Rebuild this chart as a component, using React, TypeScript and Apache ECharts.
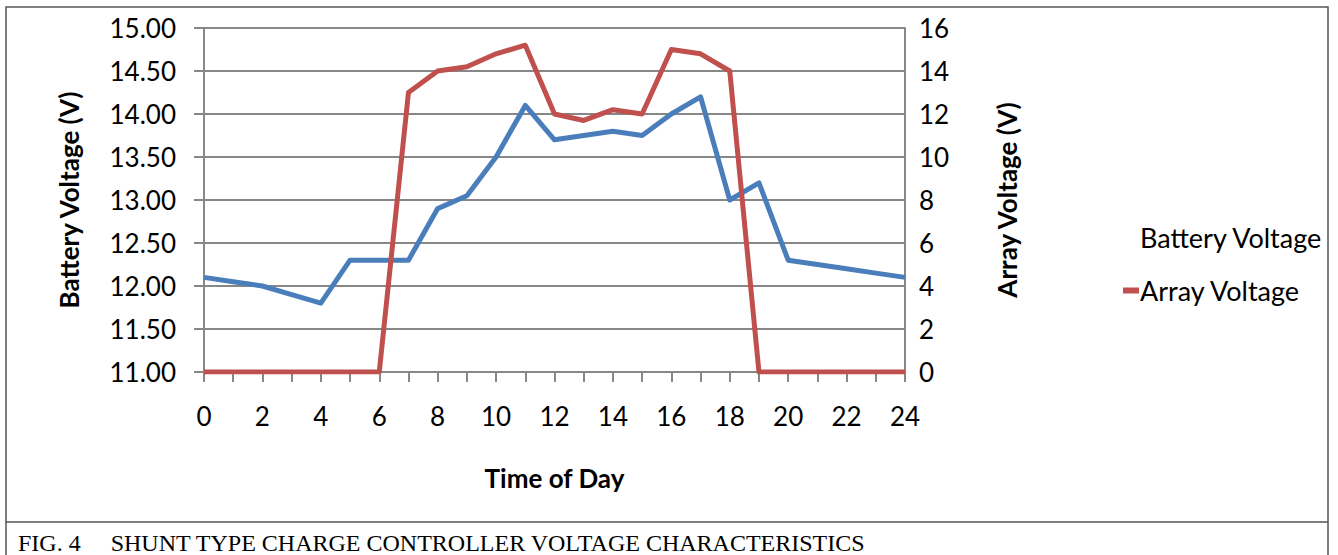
import React, { useEffect, useRef } from "react";
import * as echarts from "echarts";

const hours = [0, 1, 2, 3, 4, 5, 6, 7, 8, 9, 10, 11, 12, 13, 14, 15, 16, 17, 18, 19, 20, 21, 22, 23, 24];
const batteryVoltage = [12.1, 12.05, 12.0, 11.9, 11.8, 12.3, 12.3, 12.3, 12.9, 13.05, 13.5, 14.1, 13.7, 13.75, 13.8, 13.75, 14.0, 14.2, 13.0, 13.2, 12.3, 12.25, 12.2, 12.15, 12.1];
const arrayVoltage = [0, 0, 0, 0, 0, 0, 0, 13.0, 14.0, 14.2, 14.8, 15.2, 12.0, 11.7, 12.2, 12.0, 15.0, 14.8, 14.0, 0, 0, 0, 0, 0, 0];
const seriesNames = ["Battery Voltage", "Array Voltage"];
const caption = "FIG. 4     SHUNT TYPE CHARGE CONTROLLER VOLTAGE CHARACTERISTICS";

const FONT = "Lato, 'Open Sans', sans-serif";
const GRAY = "#878787";
const FS = 26;

export default function App() {
  const ref = useRef<HTMLDivElement>(null);
  useEffect(() => {
    document.body.style.margin = "0";
    const chart = echarts.init(ref.current!, null, { renderer: "svg" });
    chart.setOption({
      animation: false,
      backgroundColor: "#fff",
      textStyle: { fontFamily: FONT },
      grid: { left: 204, right: 433, top: 28, bottom: 183, containLabel: false },
      legend: {
        orient: "vertical",
        left: 1118,
        top: 219,
        itemGap: 26,
        itemWidth: 16,
        itemHeight: 6,
        textStyle: { fontSize: 27, color: "#000", fontFamily: FONT, padding: [0, 0, 0, -4] },
        data: [
          { name: seriesNames[0], icon: "rect", itemStyle: { color: "rgba(0,0,0,0)", opacity: 0 } },
          { name: seriesNames[1], icon: "rect", itemStyle: { color: "#c0504d" } },
        ],
      },
      xAxis: {
        type: "value",
        min: 0,
        max: 24,
        interval: 1,
        name: "Time of Day",
        nameLocation: "middle",
        nameGap: 93,
        nameTextStyle: { fontSize: FS, fontWeight: "bold", color: "#000", fontFamily: FONT },
        axisLine: { lineStyle: { color: GRAY, width: 2 } },
        axisTick: { show: true, length: 10, lineStyle: { color: GRAY, width: 2 } },
        axisLabel: {
          fontSize: FS,
          color: "#000",
          margin: 31,
          formatter: (v: number) => (v % 2 === 0 ? String(v) : ""),
        },
        splitLine: { show: false },
      },
      yAxis: [
        {
          type: "value",
          min: 11,
          max: 15,
          interval: 0.5,
          position: "left",
          name: "Battery Voltage (V)",
          nameLocation: "middle",
          nameGap: 122,
          nameTextStyle: { fontSize: FS, fontWeight: "bold", color: "#000", fontFamily: FONT },
          axisLine: { show: true, lineStyle: { color: GRAY, width: 2 } },
          axisTick: { show: true, length: 10, lineStyle: { color: GRAY, width: 2 } },
          axisLabel: { fontSize: FS, color: "#000", margin: 28, formatter: (v: number) => v.toFixed(2) },
          splitLine: { show: true, lineStyle: { color: GRAY, width: 2 } },
        },
        {
          type: "value",
          min: 0,
          max: 16,
          interval: 2,
          position: "right",
          name: "Array Voltage (V)",
          nameLocation: "middle",
          nameGap: 89,
          nameTextStyle: { fontSize: FS, fontWeight: "bold", color: "#000", fontFamily: FONT },
          axisLine: { show: true, lineStyle: { color: GRAY, width: 2 } },
          axisTick: { show: false },
          axisLabel: { fontSize: FS, color: "#000", margin: 14 },
          splitLine: { show: false },
        },
      ],
      series: [
        {
          name: seriesNames[0],
          type: "line",
          yAxisIndex: 0,
          data: hours.map((h, i) => [h, batteryVoltage[i]]),
          showSymbol: false,
          symbol: "none",
          lineStyle: { color: "#4a7ebb", width: 5, join: "round" },
          itemStyle: { color: "#4a7ebb" },
        },
        {
          name: seriesNames[1],
          type: "line",
          yAxisIndex: 1,
          data: hours.map((h, i) => [h, arrayVoltage[i]]),
          showSymbol: false,
          symbol: "none",
          lineStyle: { color: "#c0504d", width: 5, join: "round" },
          itemStyle: { color: "#c0504d" },
        },
      ],
      graphic: [
        {
          type: "rect",
          shape: { x: 6, y: 7, width: 1322, height: 515 },
          style: { fill: "none", stroke: "#555", lineWidth: 1.5 },
          silent: true,
        },
        {
          type: "line",
          shape: { x1: 6, y1: 522, x2: 6, y2: 555 },
          style: { stroke: "#555", lineWidth: 1.5 },
        },
        {
          type: "line",
          shape: { x1: 1328, y1: 522, x2: 1328, y2: 555 },
          style: { stroke: "#555", lineWidth: 1.5 },
        },
        {
          type: "text",
          x: 18,
          y: 543,
          style: {
            text: caption,
            font: "24px 'Liberation Serif', 'Times New Roman', serif",
            fill: "#000",
            verticalAlign: "middle",
          },
        },
      ],
    });
    return () => chart.dispose();
  }, []);
  return <div ref={ref} style={{ width: 1338, height: 555, position: "absolute", left: 0, top: 0 }} />;
}
